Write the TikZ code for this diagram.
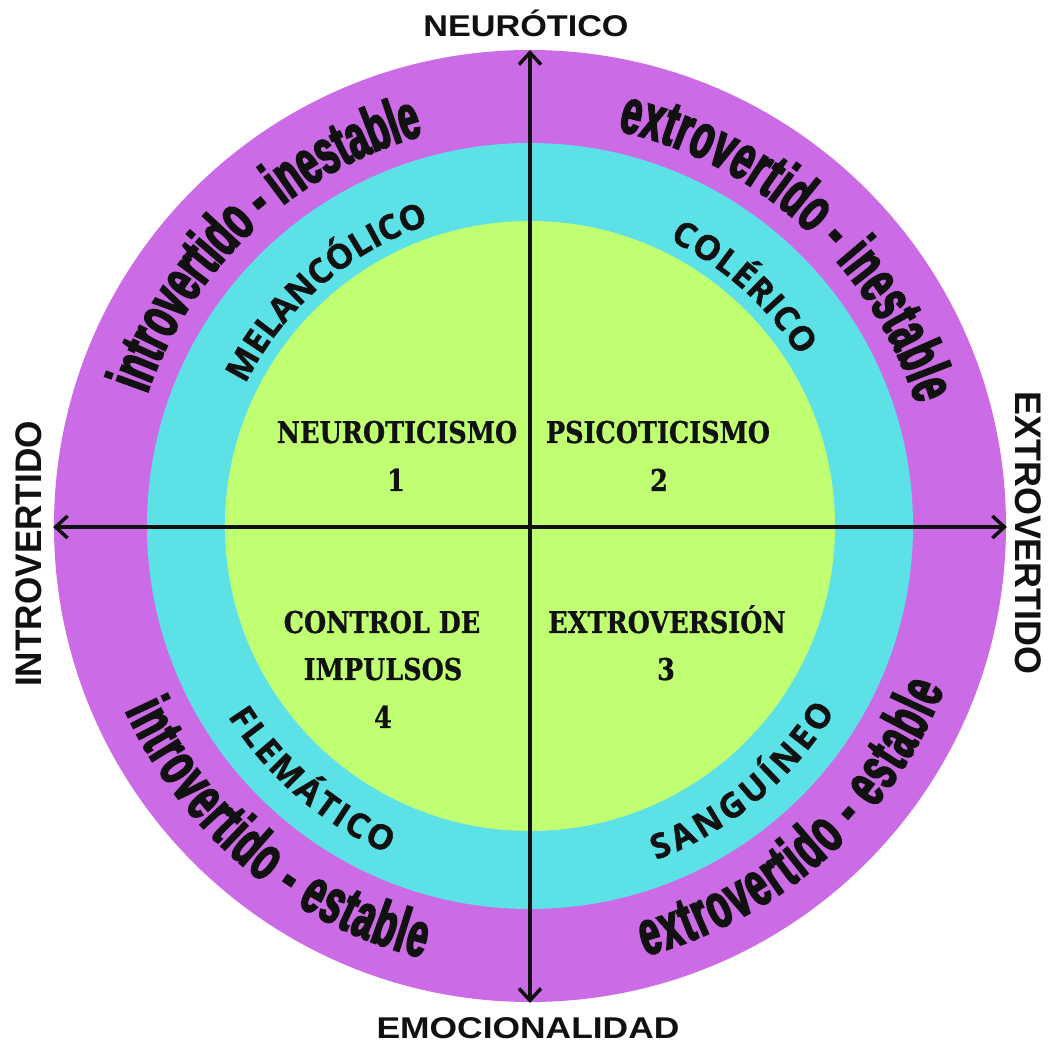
\documentclass[tikz,border=0pt]{standalone}
\usepackage{fontspec}
\usepackage{graphicx}
\usetikzlibrary{decorations.text,arrows.meta}
\setmainfont{Liberation Sans}
\newfontfamily\axisfont{Liberation Sans}
\newfontfamily\ringfont{Liberation Sans}[FakeStretch=0.58,FakeBold=3]
\newfontfamily\bandfont{Open Sans}[FakeBold=1.4]
\newfontfamily\quadfont{DejaVu Serif}[FakeStretch=0.85,FakeBold=0.8]
\definecolor{ringpurple}{HTML}{CB6CE6}
\definecolor{bandcyan}{HTML}{5CE1E6}
\definecolor{corelime}{HTML}{C1FF72}
\definecolor{ink}{HTML}{111111}
\newcommand\ringfmt{\ringfont\bfseries\fontsize{63}{63}\selectfont}
\newcommand\bandfmt{\bandfont\bfseries\fontsize{34}{34}\selectfont}
\tikzset{
  ringlabel/.style={decorate, decoration={text along path, text={|\ringfmt|#1}, text align=fit to path, text color=ink}},
  bandlabel/.style={decorate, decoration={text along path, text={|\bandfmt|#1}, text align=fit to path, text color=ink}},
  quad/.style={font=\quadfont\bfseries\fontsize{30}{30}\selectfont, text=ink, anchor=base, inner sep=0pt},
  axislabel/.style={font=\axisfont\bfseries\fontsize{#1}{#1}\selectfont, text=ink, anchor=base, inner sep=0pt},
  axisarrow/.style={line width=3.5pt, draw=ink, {Straight Barb[length=12pt,width=22pt]}-{Straight Barb[length=12pt,width=22pt]}}
}
\begin{document}
\begin{tikzpicture}[x=1pt,y=1pt]
\fill[white] (-530,-523) rectangle (523,526);
\useasboundingbox (-530,-523) rectangle (523,526);
% rings
\fill[ringpurple] (0,0) circle[radius=476];
\fill[bandcyan] (0,0) circle[radius=383];
\fill[corelime] (0,0) circle[radius=305];
% axes
\coordinate (N) at (0,476);
\coordinate (S) at (0,-477);
\coordinate (W) at (-477,-1);
\coordinate (E) at (477,-1);
\draw[axisarrow] (S) -- (N);
\draw[axisarrow] (W) -- (E);
% axis labels
\node[axislabel=30] (lneu) at (-4,489) {\scalebox{1.14}[1]{NEURÓTICO}};
\node[axislabel=30] (lemo) at (-2,-512) {\scalebox{1.18}[1]{EMOCIONALIDAD}};
\node[axislabel=37, rotate=90] (lint) at (-488,-28) {\scalebox{0.95}[1]{INTROVERTIDO}};
\node[axislabel=37, rotate=-90] (lext) at (485,-7) {\scalebox{0.97}[1]{EXTROVERTIDO}};
% purple ring texts
\path[ringlabel={introvertido - inestable}] (161:405) arc[start angle=161, end angle=105.5, radius=405];
\path[ringlabel={extrovertido - inestable}] (77.5:405) arc[start angle=77.5, end angle=17.5, radius=405];
\path[ringlabel={introvertido - estable}] (204.5:445) arc[start angle=204.5, end angle=256, radius=445];
\path[ringlabel={extrovertido - estable}] (-75:445) arc[start angle=-75, end angle=-21.5, radius=445];
% cyan band texts
\path[bandlabel={MELANCÓLICO}] (153.5:318) arc[start angle=153.5, end angle=108.5, radius=318];
\path[bandlabel={COLÉRICO}] (64:318) arc[start angle=64, end angle=32.2, radius=318];
\path[bandlabel={FLEMÁTICO}] (212.2:357) arc[start angle=212.2, end angle=246.5, radius=357];
\path[bandlabel={SANGUÍNEO}] (-69.3:357) arc[start angle=-69.3, end angle=-31.3, radius=357];
% quadrant texts
\node[quad] (q1a) at (-133,83) {NEUROTICISMO};
\node[quad] (q1b) at (-134,35) {1};
\node[quad] (q2a) at (128,83) {PSICOTICISMO};
\node[quad] (q2b) at (129,35) {2};
\node[quad] (q3a) at (137,-107) {EXTROVERSIÓN};
\node[quad] (q3b) at (136,-154) {3};
\node[quad] (q4a) at (-148,-107) {CONTROL DE};
\node[quad] (q4b) at (-147,-154) {IMPULSOS};
\node[quad] (q4c) at (-147,-202) {4};
\end{tikzpicture}
\end{document}
